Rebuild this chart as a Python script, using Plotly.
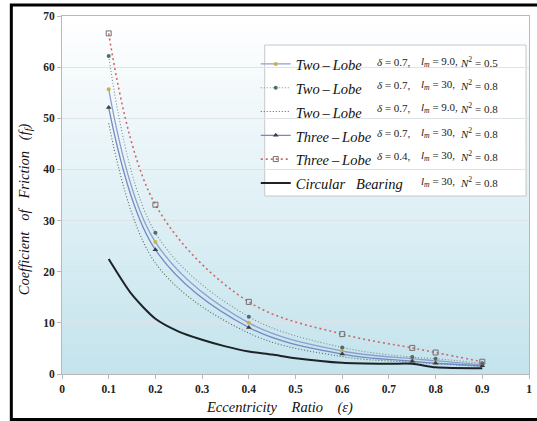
import plotly.graph_objects as go

# ---------------- data ----------------
ecc = [0.1, 0.2, 0.4, 0.6, 0.75, 0.8, 0.9]
two_lobe_d07_lm9_n05 = [55.7, 25.8, 10.0, 4.5, 3.0, 2.6, 1.8]
two_lobe_d07_lm30_n08 = [62.2, 27.6, 11.2, 5.2, 3.3, 3.0, 2.1]
two_lobe_d07_lm9_n08 = [49.0, 21.7, 8.0, 3.4, 2.3, 2.0, 1.5]
three_lobe_d07_lm30_n08 = [52.1, 24.3, 9.1, 3.9, 2.5, 2.1, 1.6]
three_lobe_d04_lm30_n08 = [66.6, 33.1, 14.1, 7.8, 5.1, 4.2, 2.4]
circ_ecc = [0.1, 0.15, 0.2, 0.25, 0.3, 0.35, 0.4, 0.45, 0.5, 0.6, 0.7, 0.75, 0.8, 0.9]
circular_lm30_n08 = [22.5, 15.5, 10.8, 8.3, 6.7, 5.4, 4.4, 3.8, 3.1, 2.2, 2.0, 2.0, 1.3, 1.1]

legend_names = ["Two\u2009\u2013\u2009Lobe", "Two\u2009\u2013\u2009Lobe", "Two\u2009\u2013\u2009Lobe",
                "Three\u2009\u2013\u2009Lobe", "Three\u2009\u2013\u2009Lobe",
                "Circular\u00a0\u00a0\u00a0Bearing"]
param_delta = ["0.7", "0.7", "0.7", "0.7", "0.4", None]
param_lm = ["9.0", "30", "9.0", "30", "30", "30"]
param_n2 = ["0.5", "0.8", "0.8", "0.8", "0.8", "0.8"]

x_ticks = [0, 0.1, 0.2, 0.3, 0.4, 0.5, 0.6, 0.7, 0.8, 0.9, 1]
y_ticks = [0, 10, 20, 30, 40, 50, 60, 70]

# ---------------- layout geometry (pixels) ----------------
W, H = 537, 421
L, R, T, B = 62, 5, 16, 47
pw, ph = W - L - R, H - T - B


def px_x(px):
    return (px - L) / pw


def px_y(py):
    return (H - B - py) / ph


SERIF = "Liberation Serif, Times New Roman, serif"


def leg(name):
    return '<span style="font-size:14.5px"><i>' + name + '</i></span>'


fig = go.Figure()

fig.add_trace(go.Scatter(
    x=ecc, y=two_lobe_d07_lm9_n05, name=leg(legend_names[0]),
    mode="lines+markers", line=dict(color="#8d9fcf", width=1.3, shape="spline"),
    marker=dict(symbol="circle", size=4, color="#c9b24e")))
fig.add_trace(go.Scatter(
    x=ecc, y=two_lobe_d07_lm30_n08, name=leg(legend_names[1]),
    mode="lines+markers", line=dict(color="#7d8c86", width=1.1, shape="spline", dash="1px,2px"),
    marker=dict(symbol="circle", size=4, color="#4f6a70")))
fig.add_trace(go.Scatter(
    x=ecc, y=two_lobe_d07_lm9_n08, name=leg(legend_names[2]),
    mode="lines", line=dict(color="#5b6460", width=1.1, shape="spline", dash="1px,2px")))
fig.add_trace(go.Scatter(
    x=ecc, y=three_lobe_d07_lm30_n08, name=leg(legend_names[3]),
    mode="lines+markers", line=dict(color="#7389c2", width=1.3, shape="spline"),
    marker=dict(symbol="triangle-up", size=5, color="#3b3b48")))
fig.add_trace(go.Scatter(
    x=ecc, y=three_lobe_d04_lm30_n08, name=leg(legend_names[4]),
    mode="lines+markers", line=dict(color="#d06868", width=1.6, shape="spline", dash="2px,3px"),
    marker=dict(symbol="square-open", size=5, color="#707070", line=dict(width=1))))
fig.add_trace(go.Scatter(
    x=circ_ecc, y=circular_lm30_n08, name=leg(legend_names[5]),
    mode="lines", line=dict(color="#1c2226", width=2, shape="spline", smoothing=0.7)))

shapes = []
# gradient plot background
nb = 60
top_c = (255, 255, 255)
bot_c = (196, 227, 237)
for i in range(nb):
    f = (i + 0.5) / nb
    c = tuple(round(bot_c[k] + (top_c[k] - bot_c[k]) * f) for k in range(3))
    shapes.append(dict(type="rect", xref="paper", yref="paper", x0=0, x1=1,
                       y0=i / nb, y1=(i + 1) / nb + 0.002, line=dict(width=0),
                       fillcolor="rgb(%d,%d,%d)" % c, layer="below"))
# legend box
shapes.append(dict(type="rect", xref="paper", yref="paper",
                   x0=px_x(266), x1=px_x(529), y0=px_y(196), y1=px_y(45),
                   line=dict(color="#c8c8c8", width=1), fillcolor="white", layer="below"))
# outer frame (right edge lies outside the picture, as in the reference)
shapes.append(dict(type="rect", xref="paper", yref="paper",
                   x0=px_x(11), x1=px_x(545), y0=px_y(419.5), y1=px_y(5),
                   line=dict(color="black", width=3), fillcolor="rgba(0,0,0,0)", layer="above"))

annotations = []
row_y = [61.7, 84.5, 107.5, 132.5, 156, 181.5]
pfont = dict(family=SERIF, size=11, color="#1a1a1a")
for i, yy in enumerate(row_y):
    if param_delta[i] is not None:
        annotations.append(dict(xref="paper", yref="paper", x=px_x(377), y=px_y(yy),
                                xanchor="left", yanchor="middle", showarrow=False,
                                text="<i>\u03b4</i> = " + param_delta[i] + ",", font=pfont))
    annotations.append(dict(xref="paper", yref="paper", x=px_x(421), y=px_y(yy),
                            xanchor="left", yanchor="middle", showarrow=False,
                            text="<i>l</i><sub><i>m</i></sub> = " + param_lm[i] + ",", font=pfont))
    annotations.append(dict(xref="paper", yref="paper", x=px_x(461), y=px_y(yy),
                            xanchor="left", yanchor="middle", showarrow=False,
                            text="<i>N</i><sup>2</sup> = " + param_n2[i], font=pfont))

sp3 = "\u00a0" * 3
sp4 = "\u00a0" * 4
annotations.append(dict(xref="paper", yref="paper", x=px_x(25), y=px_y(209),
                        textangle=-90, showarrow=False, xanchor="center", yanchor="middle",
                        text="<i>Coefficient" + sp3 + "of" + sp3 + "Friction" + sp3 + "(f<sub>f</sub>)</i>",
                        font=dict(family=SERIF, size=14.5, color="#111")))
annotations.append(dict(xref="paper", yref="paper", x=px_x(281), y=px_y(407),
                        showarrow=False, xanchor="center", yanchor="middle",
                        text="<i>Eccentricity" + sp4 + "Ratio" + sp4 + "(\u03b5)</i>",
                        font=dict(family=SERIF, size=14.5, color="#111")))

fig.update_layout(
    width=W, height=H,
    margin=dict(l=L, r=R, t=T, b=B, pad=0),
    paper_bgcolor="white", plot_bgcolor="rgba(0,0,0,0)",
    shapes=shapes, annotations=annotations,
    showlegend=True,
    legend=dict(x=px_x(257), y=px_y(47), xanchor="left", yanchor="top",
                bgcolor="rgba(0,0,0,0)", borderwidth=0,
                font=dict(family=SERIF, size=16, color="#111"),
                itemwidth=30, tracegroupgap=0),
)
fig.update_xaxes(range=[0, 1], tickvals=x_ticks, ticktext=[("%g" % v) for v in x_ticks],
                 showgrid=False, zeroline=False, showline=True, linecolor="#b8b8b8",
                 linewidth=1, mirror=True, ticks="outside", ticklen=4, tickcolor="#b8b8b8",
                 tickfont=dict(family=SERIF, size=11.5, color="#222", weight="bold"))
fig.update_yaxes(range=[0, 70], tickvals=y_ticks, showgrid=True, gridcolor="#dfe3e5",
                 zeroline=False, showline=True, linecolor="#b8b8b8", linewidth=1, mirror=True,
                 ticks="outside", ticklen=4, tickcolor="#b8b8b8",
                 tickfont=dict(family=SERIF, size=11.5, color="#222", weight="bold"))

fig.write_html("out.html", config={"displayModeBar": False},
               post_script="document.body.style.margin='0';document.body.style.padding='0';document.body.style.overflow='hidden';")
